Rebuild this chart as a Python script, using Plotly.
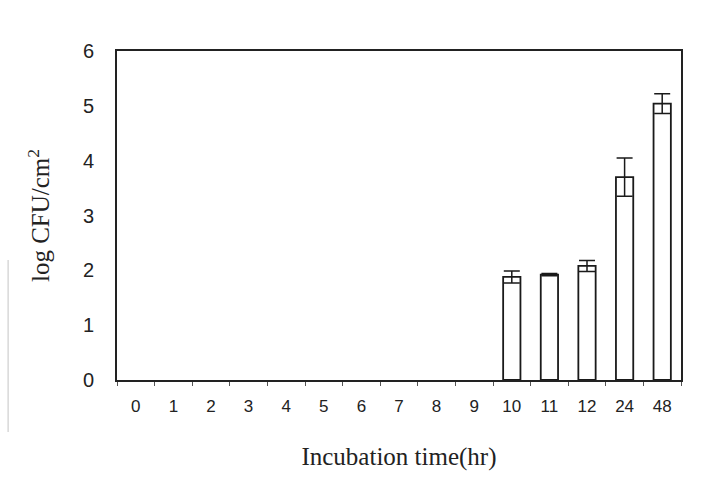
import plotly.graph_objects as go

categories = ["0", "1", "2", "3", "4", "5", "6", "7", "8", "9", "10", "11", "12", "24", "48"]
log_cfu = [0, 0, 0, 0, 0, 0, 0, 0, 0, 0, 1.88, 1.92, 2.08, 3.70, 5.04]
errors = [0, 0, 0, 0, 0, 0, 0, 0, 0, 0, 0.11, 0.02, 0.10, 0.35, 0.18]

W, H = 712, 499
L, R, T, B = 117, 31, 51, 119

edge_colors = ["#1a1a1a" if v > 0 else "rgba(0,0,0,0)" for v in log_cfu]
shown_err = [e if v > 0 else None for v, e in zip(log_cfu, errors)]

fig = go.Figure()
# bars (outline only where there is growth)
fig.add_trace(go.Bar(
    x=categories, y=log_cfu,
    width=0.46,
    marker=dict(color="white", line=dict(color=edge_colors, width=1.8)),
))
# error bars only for points with data
fig.add_trace(go.Scatter(
    x=[c for c, e in zip(categories, shown_err) if e is not None],
    y=[v for v, e in zip(log_cfu, shown_err) if e is not None],
    mode="markers", marker=dict(size=0.1, color="rgba(0,0,0,0)"),
    error_y=dict(type="data", array=[e for e in shown_err if e is not None], visible=True,
                 color="#1a1a1a", thickness=1.5, width=8),
    hoverinfo="skip",
))

fig.update_layout(
    width=W, height=H,
    margin=dict(l=L, r=R, t=T, b=B, pad=0),
    paper_bgcolor="white", plot_bgcolor="white",
    showlegend=False,
    bargap=0.54,
    xaxis=dict(
        type="category", categoryorder="array", categoryarray=categories,
        range=[-0.5, len(categories) - 0.5],
        showgrid=False, showline=True, linecolor="#222", linewidth=1.6,
        mirror=True, ticks="outside", tickson="boundaries", ticklen=4, tickcolor="#555",
        ticklabelstandoff=10,
        tickfont=dict(family="Liberation Sans, Arial", size=17, color="#222"),
        title=dict(text="Incubation time(hr)", font=dict(family="Liberation Serif, Times New Roman", size=25, color="#222"),
                   standoff=32),
    ),
    yaxis=dict(
        range=[0, 6], dtick=1, showgrid=False, zeroline=False, showline=True, linecolor="#222",
        linewidth=1.6, mirror=True, ticks="", ticklabelstandoff=17,
        tickfont=dict(family="Liberation Sans, Arial", size=20, color="#222"),
        title=dict(text="log CFU/cm<sup>2</sup>", font=dict(family="Liberation Serif, Times New Roman", size=25, color="#222"),
                   standoff=26),
    ),
    shapes=[dict(type="line", xref="paper", yref="paper", x0=-0.193, x1=-0.193, y0=-0.158, y1=0.365,
                 line=dict(color="#d8d8d8", width=1.5))],
)

fig.write_html("out.html")
